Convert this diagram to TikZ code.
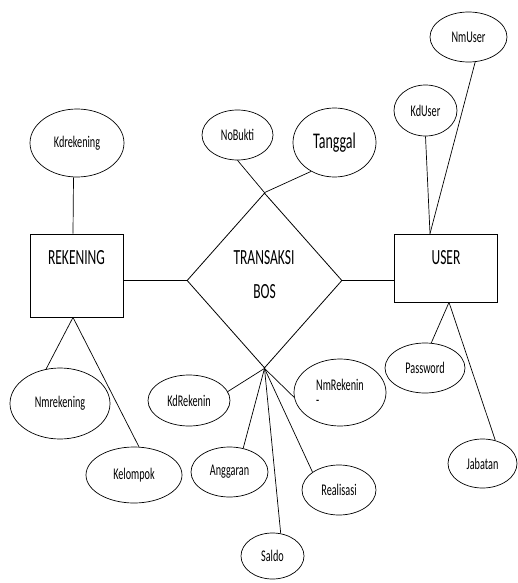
\documentclass[tikz,border=0pt]{standalone}
\usepackage{fontspec}
\setmainfont{Carlito}
\usepackage{graphicx}
\usetikzlibrary{shapes.geometric}
\newcommand\stx[1]{\scalebox{1}[1.6]{#1}}
\begin{document}
\begin{tikzpicture}[x=1pt,y=-1pt,
  attr/.style={ellipse, draw, line width=0.7pt, inner sep=0pt, font=\fontsize{10.2}{12}\selectfont},
  ent/.style={rectangle, draw, line width=0.8pt, inner sep=0pt},
  rel/.style={diamond, draw, line width=0.8pt, inner sep=0pt},
  lbl/.style={font=\fontsize{13.5}{16}\selectfont, inner sep=0pt},
  conn/.style={line width=0.7pt}]
\useasboundingbox (0,0) rectangle (517,583);

% entities and relationship
\node[ent, minimum width=93pt, minimum height=83pt] (rek) at (76.5,275.5) {};
\node[ent, minimum width=103pt, minimum height=68pt] (user) at (445.5,268) {};
\node[rel, minimum width=155pt, minimum height=175pt] (tb) at (264.5,280.5) {};
\node[lbl] (rekt) at (76.5,258) {\stx{REKENING}};
\node[lbl] (usert) at (446,258) {\stx{USER}};
\node[lbl] (tbt1) at (264,258) {\stx{TRANSAKSI}};
\node[lbl] (tbt2) at (264.5,292) {\stx{BOS}};

% attributes
\node[attr, minimum width=94pt, minimum height=68pt] (kdrek) at (77,143) {\stx{Kdrekening}};
\node[attr, minimum width=71pt, minimum height=50pt] (nobukti) at (237.5,135) {\stx{NoBukti}};
\node[attr, minimum width=83pt, minimum height=69pt, font=\fontsize{14}{16}\selectfont] (tanggal) at (334.5,142.5) {\stx{Tanggal}};
\node[attr, minimum width=63pt, minimum height=51pt] (kduser) at (425.5,110.5) {\stx{KdUser}};
\node[attr, minimum width=77pt, minimum height=50pt] (nmuser) at (468.5,37) {\stx{NmUser}};
\node[attr, minimum width=100pt, minimum height=71pt] (nmrek) at (60,403.5) {\stx{Nmrekening}};
\node[attr, minimum width=96pt, minimum height=56pt] (kel) at (134,475) {\stx{Kelompok}};
\node[attr, minimum width=82pt, minimum height=51pt] (kdrk) at (189,400.5) {\stx{KdRekenin}};
\node[attr, minimum width=77pt, minimum height=50pt] (angg) at (229.5,472) {\stx{Anggaran}};
\node[attr, minimum width=63pt, minimum height=46pt] (saldo) at (272.5,556) {\stx{Saldo}};
\node[attr, minimum width=74pt, minimum height=50pt] (real) at (339,490) {\stx{Realisasi}};
\node[attr, minimum width=92pt, minimum height=67pt, align=left] (nmrk) at (340,392.5) {\stx{NmRekenin}\\[3pt]\stx{-}};
\node[attr, minimum width=80pt, minimum height=50pt] (pass) at (425,368) {\stx{Password}};
\node[attr, minimum width=69pt, minimum height=49pt] (jab) at (482.5,463.5) {\stx{Jabatan}};

% connectors
\draw[conn] (tb.west) -- (tb.west -| rek.east);
\draw[conn] (tb.east) -- (tb.east -| user.west);
\draw[conn] ([xshift=-3.5pt]kdrek.south) -- ([xshift=-3.5pt]rek.north);
\draw[conn] (nmrek.112) -- ([xshift=-3.5pt]rek.south);
\draw[conn] (kel.80) -- ([xshift=-3.5pt]rek.south);
\draw[conn] (nobukti.south) -- (tb.north);
\draw[conn] (tanggal.231) -- (tb.north);
\draw[conn] (kduser.south) -- ([xshift=-15.5pt]user.north);
\draw[conn] (nmuser.-75) -- ([xshift=-15.5pt]user.north);
\draw[conn] (pass.76) -- ([xshift=3.5pt]user.south);
\draw[conn] (jab.61) -- ([xshift=3.5pt]user.south);
\draw[conn] (kdrk.13) -- (tb.south);
\draw[conn] (angg.60) -- (tb.south);
\draw[conn] (saldo.70) -- (tb.south);
\draw[conn] (real.146) -- (tb.south);
\draw[conn] (nmrk.186) -- (tb.south);
\end{tikzpicture}
\end{document}
